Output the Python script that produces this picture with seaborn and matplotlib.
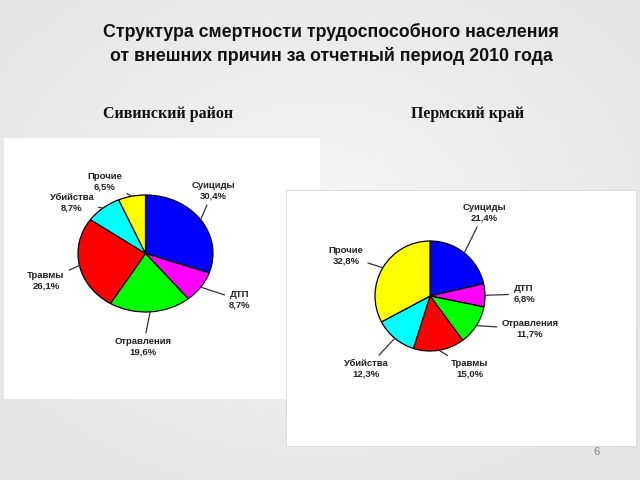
import numpy as np
import matplotlib
matplotlib.use("Agg")
import matplotlib.pyplot as plt
from matplotlib.patches import Rectangle
import seaborn as sns

# ---- data ----
categories = ["Суициды", "ДТП", "Отравления", "Травмы", "Убийства", "Прочие"]
siv_values = [30.4, 8.7, 19.6, 26.1, 8.7, 6.5]
perm_values = [21.4, 6.8, 11.7, 15.0, 12.3, 32.8]
colors = ["#0000FF", "#FF00FF", "#00FF00", "#FF0000", "#00FFFF", "#FFFF00"]

title = "Структура смертности трудоспособного населения\nот внешних причин за отчетный период 2010 года"
sub_left = "Сивинский район"
sub_right = "Пермский край"

# ---- layout (pixel positions) ----
siv_label_pos = [(213, 191), (240, 300), (143, 347), (46, 281), (72, 203), (105, 182)]
perm_label_pos = [(484, 213), (524, 294), (530, 329), (470, 369), (366, 369), (346, 256)]

sns.set_theme(style="white")
plt.rcParams["font.family"] = ["Liberation Sans", "DejaVu Sans"]

W, H = 640, 480
fig = plt.figure(figsize=(6.4, 4.8), dpi=100)

# background with soft gradient
bg = fig.add_axes([0, 0, 1, 1])
yy, xx = np.mgrid[0:H, 0:W]
d = np.sqrt(((xx - W * 0.5) / W) ** 2 + ((yy - H * 0.45) / H) ** 2)
img = 0.955 - 0.09 * d
bg.imshow(img, cmap="gray", vmin=0, vmax=1, extent=(0, W, H, 0), aspect="auto")
bg.set_xlim(0, W)
bg.set_ylim(H, 0)
bg.axis("off")

# white panels
bg.add_patch(Rectangle((4, 138), 316, 261, facecolor="white", edgecolor="none"))
bg.add_patch(Rectangle((286, 190), 350, 256, facecolor="white", edgecolor="#d8d8d8", lw=0.6))

bg.text(331, 44, title, ha="center", va="center", fontsize=12.8, fontweight="bold",
        color="#111111", linespacing=1.45)
bg.text(168, 114, sub_left, ha="center", va="center", fontsize=11.5, fontweight="bold",
        family=["Liberation Serif", "DejaVu Serif"], color="#111111")
bg.text(468, 114, sub_right, ha="center", va="center", fontsize=11.5, fontweight="bold",
        family=["Liberation Serif", "DejaVu Serif"], color="#111111")
bg.text(597, 452, "6", ha="center", va="center", fontsize=8, color="#888888")


def fmt(v):
    return f"{v:.1f}".replace(".", ",") + "%"


def draw_pie(rect, values, label_pos):
    ax = fig.add_axes(rect)
    wedges, _ = ax.pie(values, colors=colors, startangle=90, counterclock=False,
                       wedgeprops=dict(edgecolor="black", linewidth=0.9))
    ax.set_aspect("auto")
    ax.set_xlim(-1, 1)
    ax.set_ylim(-1, 1)
    ax.axis("off")
    for w, cat, v, pos in zip(wedges, categories, values, label_pos):
        ang = np.deg2rad((w.theta1 + w.theta2) / 2)
        xy = (np.cos(ang), np.sin(ang))
        ax.annotate(f"{cat}\n{fmt(v)}", xy=xy, xytext=pos, textcoords=bg.transData,
                    ha="center", va="center", fontsize=6.8, fontweight="bold",
                    color="#222222", linespacing=1.15, annotation_clip=False,
                    arrowprops=dict(arrowstyle="-", color="#333333", lw=0.9,
                                    shrinkA=1, shrinkB=0))
    return ax


draw_pie([78 / W, (H - 253.5 - 58.5) / H, 135 / W, 117 / H], siv_values, siv_label_pos)
draw_pie([375 / W, (H - 296 - 55) / H, 110 / W, 110 / H], perm_values, perm_label_pos)

fig.savefig("out.png", dpi=100)
